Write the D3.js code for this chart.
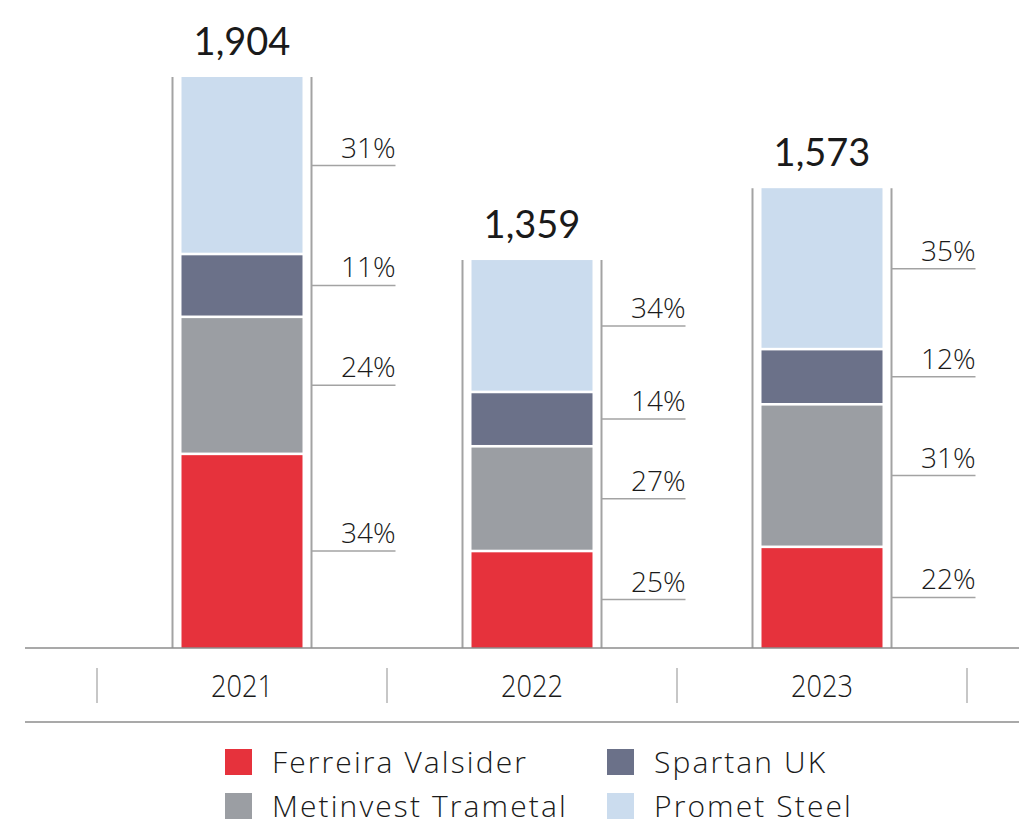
<!DOCTYPE html>
<meta charset="utf-8">
<style>
body { margin: 0; background: #fff; }
text { font-family: "Open Sans", Lato, sans-serif; fill: #1a1a1a; }
.total { font-size: 38px; font-family: Lato, sans-serif; }
.pct { font-size: 28px; font-weight: 300; }
.year { font-size: 31px; font-weight: 300; }
.legend text { font-size: 30px; font-weight: 300; letter-spacing: 2.1px; }
.frame { stroke: #a3a3a3; stroke-width: 2; }
.leader { stroke: #a3a3a3; stroke-width: 1.5; }
.axis { stroke: #8c8c8c; stroke-width: 1.5; }
.tick { stroke: #b5b5b5; stroke-width: 1.5; }
</style>
<svg width="1019" height="826"></svg>
<script src="https://d3js.org/d3.v7.min.js"></script>
<script>

var years = ["2021", "2022", "2023"];
var totals = [1904, 1359, 1573];

// share of each company per year, in %
var ferreira = [34, 25, 22];
var metinvest = [24, 27, 31];
var spartan = [11, 14, 12];
var promet = [31, 34, 35];

var companies = ["Ferreira Valsider", "Metinvest Trametal", "Spartan UK", "Promet Steel"];
var colors = ["#e6323c", "#9b9ea3", "#6b7189", "#cbdcee"];

var svg = d3.select("svg");
var baseline = 648;

var table = years.map(function(y, i) {
  return {
    year: y,
    total: totals[i],
    "Ferreira Valsider": ferreira[i],
    "Metinvest Trametal": metinvest[i],
    "Spartan UK": spartan[i],
    "Promet Steel": promet[i]
  };
});

var x = d3.scaleBand().domain(years).range([97, 967]);
var y = d3.scaleLinear().domain([204, 1904]).range([baseline, 77]);
var color = d3.scaleOrdinal().domain(companies).range(colors);

var barW = 121;
function barLeft(d) { return x(d.year) + (x.bandwidth() - barW) / 2; }

var series = d3.stack().keys(companies)(table);

// position inside a bar: percent -> pixel
function segY(d, p) {
  var h = baseline - y(d.total);
  return baseline - h * p / 100;
}

var bars = svg.append("g");

// frame lines either side of each bar
bars.selectAll(".fl")
  .data(table)
  .enter().append("line")
    .attr("class", "frame")
    .attr("x1", function(d) { return barLeft(d) - 9; })
    .attr("x2", function(d) { return barLeft(d) - 9; })
    .attr("y1", function(d) { return y(d.total); })
    .attr("y2", baseline);
bars.selectAll(".fr")
  .data(table)
  .enter().append("line")
    .attr("class", "frame")
    .attr("x1", function(d) { return barLeft(d) + barW + 9; })
    .attr("x2", function(d) { return barLeft(d) + barW + 9; })
    .attr("y1", function(d) { return y(d.total); })
    .attr("y2", baseline);

var layer = bars.selectAll(".layer")
  .data(series)
  .enter().append("g")
    .attr("fill", function(s) { return color(s.key); });

layer.selectAll("rect")
  .data(function(s) { return s; })
  .enter().append("rect")
    .attr("x", function(d) { return barLeft(d.data); })
    .attr("width", barW)
    .attr("y", function(d) { return segY(d.data, d[1]) + (d[1] >= 99.9 ? 0 : 1.3); })
    .attr("height", function(d) {
      var top = segY(d.data, d[1]) + (d[1] >= 99.9 ? 0 : 1.3);
      var bot = segY(d.data, d[0]) - (d[0] <= 0 ? 0 : 1.3);
      return bot - top;
    });

// leader lines + percentage labels
layer.selectAll("line")
  .data(function(s) { return s; })
  .enter().append("line")
    .attr("class", "leader")
    .attr("x1", function(d) { return barLeft(d.data) + barW + 9; })
    .attr("x2", function(d) { return barLeft(d.data) + barW + 93; })
    .attr("y1", function(d) { return segY(d.data, (d[0] + d[1]) / 2); })
    .attr("y2", function(d) { return segY(d.data, (d[0] + d[1]) / 2); });

layer.selectAll("text")
  .data(function(s) { return s; })
  .enter().append("text")
    .attr("class", "pct")
    .attr("text-anchor", "end")
    .attr("x", function(d) { return barLeft(d.data) + barW + 93; })
    .attr("y", function(d) { return segY(d.data, (d[0] + d[1]) / 2) - 8; })
    .text(function(d) { return (d[1] - d[0]) + "%"; });

// totals on top
svg.selectAll(".total")
  .data(table)
  .enter().append("text")
    .attr("class", "total")
    .attr("text-anchor", "middle")
    .attr("x", function(d) { return x(d.year) + x.bandwidth() / 2; })
    .attr("y", function(d) { return y(d.total) - 22; })
    .text(function(d) { return d3.format(",")(d.total); });

// axis
svg.append("line").attr("class", "axis")
  .attr("x1", 25).attr("x2", 1019).attr("y1", baseline).attr("y2", baseline);
svg.append("line").attr("class", "axis")
  .attr("x1", 25).attr("x2", 1019).attr("y1", 722).attr("y2", 722);

var seps = years.map(function(d) { return x(d); }).concat([x.range()[1]]);
svg.selectAll(".tick")
  .data(seps)
  .enter().append("line")
    .attr("class", "tick")
    .attr("x1", function(d) { return d; })
    .attr("x2", function(d) { return d; })
    .attr("y1", 668).attr("y2", 703);

svg.selectAll(".year")
  .data(years)
  .enter().append("text")
    .attr("class", "year")
    .attr("text-anchor", "middle")
    .attr("x", function(d) { return x(d) + x.bandwidth() / 2; })
    .attr("y", 697)
    .attr("textLength", 62)
    .attr("lengthAdjust", "spacingAndGlyphs")
    .text(function(d) { return d; });

// legend, two columns
var legendOrder = ["Ferreira Valsider", "Spartan UK", "Metinvest Trametal", "Promet Steel"];
var legend = svg.append("g").attr("class", "legend")
  .selectAll("g")
  .data(legendOrder)
  .enter().append("g")
    .attr("transform", function(d, i) {
      return "translate(" + (i % 2 ? 607 : 225) + "," + (749 + Math.floor(i / 2) * 44) + ")";
    });
legend.append("rect")
  .attr("width", 27).attr("height", 26)
  .attr("fill", function(d) { return color(d); });
legend.append("text")
  .attr("x", 47).attr("y", 24)
  .text(function(d) { return d; });

</script>
